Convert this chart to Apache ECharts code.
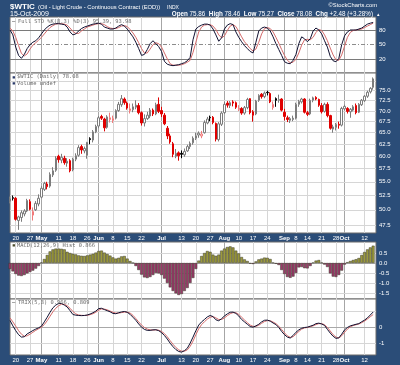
<!DOCTYPE html>
<html><head><meta charset="utf-8">
<script src="https://cdn.jsdelivr.net/npm/echarts@6/dist/echarts.min.js"></script>
<style>html,body{margin:0;padding:0;background:#2b4d78;}#c{width:400px;height:365px;}</style>
</head><body><div id="c"></div>
<script>
// ---------- DATA ----------
const holidays = ['2009-05-25','2009-07-03','2009-09-07'];
const firstDay = '2009-04-16';
const dayCount = 129; // through 2009-10-16 (empty slot at right edge)

const opens = [51.5,52.1,52.0,48.2,48.7,49.3,49.8,51.4,49.1,50.0,
51.0,52.2,53.6,54.6,54.2,56.3,57.2,60.0,59.2,59.6,
58.6,59.1,57.3,59.4,60.2,62.0,61.1,60.2,63.7,63.4,
65.2,66.5,68.7,68.1,66.2,68.0,67.8,68.3,70.1,71.5,
72.9,71.9,70.1,70.3,70.9,71.3,69.6,67.2,68.2,68.8,
70.2,69.3,71.6,70.1,69.0,66.0,64.3,62.6,60.0,60.7,
60.6,60.3,61.1,62.0,62.8,63.8,64.5,64.3,65.0,67.2,
68.5,68.5,67.1,63.5,66.9,69.6,71.9,71.3,72.2,72.0,
70.4,70.6,69.5,70.8,73.0,69.8,69.3,72.6,74.1,73.5,
74.6,74.3,70.8,73.0,72.6,72.9,69.7,68.4,67.8,68.0,
68.3,71.6,72.2,72.9,69.6,69.3,72.6,73.3,72.8,71.3,
69.9,71.6,68.9,65.8,66.2,66.9,66.7,70.5,70.6,69.8,
70.2,71.3,69.7,71.5,72.5,73.6,74.7,75.86];
const highs = [52.3,52.5,52.2,49.0,49.9,50.1,51.9,51.8,50.4,51.5,
52.7,54.2,55.0,55.0,56.8,57.8,60.0,60.3,60.5,60.1,
59.6,59.4,59.7,60.6,62.3,62.4,62.0,63.0,64.0,65.6,
66.8,68.8,69.1,68.4,69.0,69.6,68.9,70.4,72.2,73.9,
73.3,72.3,71.8,71.8,72.6,71.9,69.9,69.2,69.8,70.7,
70.6,72.0,73.3,71.0,69.5,66.5,64.8,63.0,61.5,61.0,
61.2,61.6,62.4,63.1,64.2,65.0,65.3,65.4,67.8,68.6,
68.9,68.8,67.3,67.4,69.9,72.2,72.4,72.4,72.6,72.3,
71.4,70.9,71.2,73.2,73.1,70.2,72.7,74.1,74.4,74.8,
75.0,74.6,72.3,73.3,74.0,73.1,70.5,68.9,68.6,68.9,
72.0,72.7,73.2,73.1,70.0,73.0,73.5,73.6,73.0,71.9,
72.0,72.1,69.1,66.8,67.2,67.5,71.0,71.5,70.9,70.7,
71.4,71.8,71.9,72.9,73.9,75.0,75.9,78.46];
const lows = [51.1,51.6,48.2,46.7,48.0,48.9,49.6,49.9,48.2,49.8,
50.6,52.0,53.3,53.6,53.9,55.9,56.9,58.7,58.6,58.3,
57.9,56.8,57.0,59.0,59.9,60.5,60.6,59.5,62.5,62.9,
64.9,66.0,67.9,65.3,65.9,67.3,67.2,68.0,69.8,71.0,
71.5,70.3,69.4,69.7,70.4,69.2,66.6,66.4,67.9,68.3,
68.8,69.0,69.5,68.6,66.7,63.6,62.6,59.8,59.6,59.1,
59.6,59.9,60.9,61.5,62.4,63.4,63.9,63.8,64.8,66.9,
67.6,66.9,63.1,63.1,66.5,69.3,70.8,70.7,71.1,70.5,
70.0,69.1,69.1,70.4,69.2,67.5,69.0,72.2,73.0,73.1,
73.8,71.9,70.3,71.0,72.0,69.9,67.8,67.4,67.2,67.6,
68.0,71.0,71.8,69.4,68.8,69.0,72.1,72.6,71.0,69.4,
69.6,68.5,65.7,65.0,65.5,65.9,66.4,70.2,69.4,68.4,
69.9,69.2,69.5,71.2,72.2,73.2,74.3,75.27];
const closes = [51.9,52.0,48.4,48.8,49.5,49.8,51.6,50.1,49.7,51.1,
52.0,53.8,54.7,54.1,56.4,57.1,59.6,59.3,59.8,58.7,
59.0,57.1,59.4,60.1,61.8,61.3,61.6,62.9,63.5,65.2,
66.4,68.4,68.3,66.1,68.6,68.4,68.2,70.1,71.6,73.0,
72.0,70.7,70.5,71.0,71.4,69.6,67.2,68.2,69.0,70.2,
69.3,71.5,69.9,69.3,67.0,64.3,63.0,60.4,60.6,60.1,
60.4,61.0,62.0,62.7,63.8,64.3,64.9,64.7,67.3,68.1,
68.4,67.3,63.6,67.0,69.5,71.6,71.4,72.0,71.9,70.9,
70.6,69.5,70.8,72.8,69.6,69.0,72.4,73.8,73.5,74.4,
74.5,72.2,71.6,72.6,72.8,70.2,68.7,68.0,68.2,68.3,
71.6,72.3,72.9,69.7,69.2,72.6,73.2,72.9,71.4,69.8,
71.6,68.9,66.0,66.3,66.9,66.7,70.6,71.1,69.9,70.4,
71.0,69.6,71.6,72.6,73.6,74.6,75.6,78.08];

const stoK = [80,70,45,28,22,30,42,50,55,58,
64,72,80,86,90,92,93,93,92,91,
86,76,70,72,78,83,86,88,90,92,
93,94,92,86,84,82,82,84,88,91,
88,82,74,66,55,42,28,30,40,52,
58,52,46,36,16,10,8,7,8,9,
11,13,17,24,60,82,87,90,92,92,
90,82,70,57,64,82,90,93,91,76,
65,56,48,42,36,33,55,78,84,86,
84,78,66,52,40,28,15,12,11,18,
30,52,66,62,56,62,78,84,80,72,
58,45,26,17,15,22,50,68,76,80,
80,80,82,84,88,92,94,95.39];
const stoD = [84,78,65,48,32,27,31,41,49,54,
59,65,72,79,85,89,92,93,93,92,
90,84,77,73,73,78,82,86,88,90,
92,93,93,91,87,84,83,83,85,88,
89,87,81,74,65,54,42,33,33,41,
50,54,52,45,33,21,11,8,8,8,
9,11,14,18,34,55,76,86,90,91,
91,88,81,70,64,68,79,88,91,87,
77,66,56,49,42,37,41,55,72,83,
85,83,76,65,53,40,28,18,13,14,
20,33,49,60,61,60,65,75,81,79,
70,58,43,29,19,18,29,47,65,75,
79,80,81,82,85,88,91,93.98];
const macdHist = [-0.30,-0.42,-0.55,-0.63,-0.65,-0.60,-0.52,-0.45,-0.38,-0.28,
-0.15,0.02,0.20,0.40,0.58,0.68,0.72,0.72,0.71,0.68,
0.56,0.50,0.46,0.43,0.38,0.36,0.35,0.38,0.42,0.46,
0.52,0.60,0.62,0.52,0.45,0.37,0.28,0.22,0.26,0.33,
0.35,0.22,0.10,0.01,-0.15,-0.35,-0.58,-0.72,-0.75,-0.70,
-0.60,-0.50,-0.52,-0.60,-0.78,-1.00,-1.22,-1.40,-1.52,-1.60,
-1.55,-1.40,-1.25,-1.00,-0.75,-0.30,0.12,0.35,0.50,0.60,
0.56,0.42,0.36,0.42,0.62,0.72,0.80,0.83,0.78,0.62,
0.48,0.30,0.18,0.10,-0.03,-0.05,0.08,0.18,0.22,0.27,
0.26,0.20,0.02,-0.04,-0.10,-0.35,-0.55,-0.70,-0.74,-0.68,
-0.50,-0.22,-0.20,-0.26,-0.27,-0.15,0.02,0.12,0.15,0.02,
-0.08,-0.20,-0.52,-0.68,-0.70,-0.60,-0.38,-0.08,0.04,0.10,
0.15,0.19,0.25,0.40,0.55,0.68,0.78,0.866];
const trix = [0.44,0.10,-0.20,-0.45,-0.60,-0.58,-0.40,-0.30,-0.19,-0.10,
-0.02,0.08,0.35,0.64,0.95,1.23,1.40,1.50,1.50,1.40,
1.28,1.05,0.81,0.77,0.75,0.74,0.75,0.78,0.84,0.92,
1.02,1.18,1.20,1.12,1.05,0.98,0.88,0.86,0.92,0.97,
1.00,0.95,0.82,0.64,0.45,0.22,0.02,-0.12,-0.18,-0.18,
-0.15,-0.14,-0.20,-0.32,-0.50,-0.72,-0.98,-1.20,-1.38,-1.50,
-1.54,-1.45,-1.30,-0.98,-0.60,-0.20,0.15,0.35,0.50,0.66,
0.75,0.68,0.48,0.42,0.55,0.72,0.85,0.95,0.96,0.88,
0.72,0.50,0.35,0.20,0.06,0.02,0.10,0.20,0.35,0.45,
0.46,0.40,0.28,0.18,0.00,-0.25,-0.45,-0.60,-0.66,-0.50,
-0.30,-0.15,-0.05,0.00,0.02,0.08,0.14,0.24,0.27,0.22,
0.13,-0.12,-0.35,-0.55,-0.68,-0.65,-0.42,-0.15,0.00,0.10,
0.15,0.20,0.24,0.36,0.46,0.60,0.78,0.966];
const trixSignal = [0.60,0.35,0.08,-0.20,-0.42,-0.55,-0.52,-0.42,-0.30,-0.18,
-0.08,0.02,0.18,0.42,0.70,0.98,1.20,1.36,1.45,1.45,
1.36,1.20,1.00,0.85,0.78,0.76,0.75,0.76,0.80,0.86,
0.95,1.08,1.16,1.15,1.10,1.03,0.95,0.90,0.90,0.93,
0.96,0.96,0.90,0.76,0.56,0.35,0.15,0.00,-0.10,-0.15,
-0.16,-0.15,-0.17,-0.25,-0.38,-0.58,-0.82,-1.05,-1.25,-1.40,
-1.48,-1.48,-1.40,-1.18,-0.85,-0.45,-0.08,0.18,0.36,0.52,
0.64,0.68,0.60,0.50,0.50,0.60,0.74,0.86,0.93,0.92,
0.82,0.64,0.47,0.30,0.15,0.07,0.07,0.14,0.26,0.37,
0.43,0.42,0.34,0.24,0.08,-0.13,-0.34,-0.52,-0.62,-0.58,
-0.42,-0.25,-0.10,-0.03,0.00,0.05,0.10,0.18,0.24,0.24,
0.17,0.00,-0.22,-0.45,-0.60,-0.66,-0.52,-0.30,-0.10,0.04,
0.12,0.17,0.22,0.30,0.40,0.53,0.67,0.809];

const xTickDates = ['2009-04-20','2009-04-27','2009-05-01','2009-05-11','2009-05-18','2009-05-26','2009-06-01','2009-06-08','2009-06-15','2009-06-22','2009-07-01','2009-07-13','2009-07-20','2009-07-27','2009-08-03','2009-08-10','2009-08-17','2009-08-24','2009-09-01','2009-09-08','2009-09-14','2009-09-21','2009-09-28','2009-10-01','2009-10-12'];
const xTickText = ['20','27','May','11','18','26','Jun','8','15','22','Jul','13','20','27','Aug','10','17','24','Sep','8','14','21','28','Oct','12'];
const monthStarts = ['2009-05-01','2009-06-01','2009-07-01','2009-08-03','2009-09-01','2009-10-01'];
const priceTicks = [47.5,50,52.5,55,57.5,60,62.5,65,67.5,70,72.5,75,77.5];
const stoTicks = [20,50,80];
const macdTicks = [0.5,0,-0.5,-1.0,-1.5];
const trixTicks = [1,0,-1];

// ---------- BUILD ----------
const dates = [];
{ let d = new Date(Date.UTC(2009,3,16));
  while (dates.length < dayCount) {
    const wd = d.getUTCDay(), s = d.toISOString().slice(0,10);
    if (wd !== 0 && wd !== 6 && holidays.indexOf(s) < 0) dates.push(s);
    d.setUTCDate(d.getUTCDate()+1);
  } }
const tickMap = {};
xTickDates.forEach((dt,k)=>{ tickMap[dates.indexOf(dt)] = xTickText[k]; });

const FONT = '"Liberation Sans", Arial, sans-serif';
const MONO = '"DejaVu Sans Mono", monospace';
const WHITE = '#ffffff';

const candleData = closes.map((c,i)=>{
  const o = opens[i], prev = i>0 ? closes[i-1] : o;
  const upDay = c >= prev;
  let fill, border;
  if (c >= o) { fill = '#ffffff'; border = upDay ? '#7c7c7c' : '#f07a7a'; }
  else { fill = upDay ? '#000000' : '#e00000'; border = fill; }
  return {value:[o,c,lows[i],highs[i]], itemStyle:{color:fill,color0:fill,borderColor:border,borderColor0:border}};
});
const macdData = macdHist.map(v=>({value:v, itemStyle:{color: v>=0 ? '#9c9a3c' : '#9a3a6a'}}));

const grids = [
  {left:10, right:24, top:17, height:56},
  {left:10, right:24, top:73, height:160},
  {left:10, right:24, top:242, height:57},
  {left:10, right:24, top:299, height:56}
].map(g=>Object.assign(g,{show:true, backgroundColor:'#ffffff', borderColor:'#6a6a6a', borderWidth:1}));

const xAxes = [0,1,2,3].map(k=>({
  type:'category', gridIndex:k, data:dates, boundaryGap:false,
  axisLine:{show:false}, axisTick:{show:false},
  axisLabel:{show:(k===1||k===3), interval:(i)=>tickMap[i]!==undefined, margin:2,
    color:WHITE, fontSize:6, fontFamily:FONT,
    formatter:(v,i)=>{ const t = tickMap[dates.indexOf(v)]; if(t===undefined) return ''; return /[A-Za-z]/.test(t) ? '{m|'+t+'}' : t; },
    rich:{m:{fontWeight:'bold', color:WHITE, fontSize:6, fontFamily:FONT}}},
  splitLine:{show:true, interval:(i)=>tickMap[i]!==undefined, lineStyle:{color:'#d6d6d6', width:1}}
}));
const yAxes = [
  {type:'value', gridIndex:0, min:-8, max:106.6, show:false},
  {type:'log', gridIndex:1, min:46.2, max:79.66, show:false},
  {type:'value', gridIndex:2, min:-1.8, max:1.05, show:false},
  {type:'value', gridIndex:3, min:-1.72, max:1.78, show:false}
];

function hLine(v, color, type, text){
  return {yAxis:v, lineStyle:{color:color, width:1, type:type||'solid'},
    label: text!=null ? {show:true, position:'end', distance:3, formatter:text, color:WHITE, fontSize:6, fontFamily:FONT} : {show:false}};
}
function monthLines(){ return monthStarts.map(dt=>({xAxis:dt, lineStyle:{color:'#a6a6a6', width:1, type:'solid'}, label:{show:false}})); }
function gridSeries(k, lines){
  return {type:'line', xAxisIndex:k, yAxisIndex:k, data:[], silent:true, z:1,
    markLine:{silent:true, symbol:['none','none'], animation:false, z:1, data: monthLines().concat(lines)}};
}
function tagSeries(k, v, text){
  return {type:'line', xAxisIndex:k, yAxisIndex:k, data:[], silent:true, z:20,
    markLine:{silent:true, symbol:['none','none'], animation:false, z:20,
      data:[{yAxis:v, lineStyle:{width:0, opacity:0},
        label:{show:true, position:'end', distance:1, formatter:text, color:'#000', fontSize:5.5, fontFamily:FONT,
          backgroundColor:'#ffffff', borderColor:'#444', borderWidth:1, padding:[1,1,0,1]}}]}};
}

const series = [
  gridSeries(0, stoTicks.map(v=> v===50 ? hLine(v,'#8c8c8c',[4,2,1,2],String(v)) : hLine(v,'#7a7a7a','solid',String(v)))),
  {type:'line', xAxisIndex:0, yAxisIndex:0, data:stoD, symbol:'none', z:3, lineStyle:{color:'#d46a6a', width:1}, animation:false},
  {type:'line', xAxisIndex:0, yAxisIndex:0, data:stoK, symbol:'none', z:4, lineStyle:{color:'#101030', width:1}, animation:false},
  tagSeries(0, stoK[stoK.length-1], '95.39'),

  gridSeries(1, priceTicks.map(v=>hLine(v,'#d6d6d6','solid', v===77.5 ? null : v.toFixed(1)))),
  {type:'candlestick', xAxisIndex:1, yAxisIndex:1, data:candleData, barWidth:2, z:3, animation:false,
    itemStyle:{borderWidth:1}},
  tagSeries(1, closes[closes.length-1], '78.08'),

  gridSeries(2, macdTicks.map(v=>hLine(v, v===0 ? '#a8a8a8' : '#d6d6d6','solid', v.toFixed(1)))),
  {type:'bar', xAxisIndex:2, yAxisIndex:2, data:macdData, barCategoryGap:'0%', z:3, animation:false,
    itemStyle:{borderColor:'#3a3a2a', borderWidth:0.5}},
  tagSeries(2, macdHist[macdHist.length-1], '0.866'),

  gridSeries(3, trixTicks.map(v=>hLine(v, v===0 ? '#a8a8a8' : '#d6d6d6','solid', v===1 ? null : String(v)))),
  {type:'line', xAxisIndex:3, yAxisIndex:3, data:trixSignal, symbol:'none', z:3, lineStyle:{color:'#d46a6a', width:1}, animation:false},
  {type:'line', xAxisIndex:3, yAxisIndex:3, data:trix, symbol:'none', z:4, lineStyle:{color:'#101030', width:1}, animation:false},
  tagSeries(3, trix[trix.length-1], '0.966')
];

function txt(x,y,text,font,fill,align,extra){
  return Object.assign({type:'text', x:x, y:y, z:50, silent:true,
    style:{text:text, font:font, fill:fill||WHITE, align:align||'left', verticalAlign:'middle'}}, extra||{});
}
const graphics = [
  txt(10,7,'$WTIC','bold 8px '+FONT),
  txt(38,7.5,'(Oil - Light Crude - Continuous Contract (EOD))','5.8px '+FONT),
  txt(167,7.5,'INDX','5px '+FONT),
  txt(10,14,'15-Oct-2009','7px '+FONT),
  txt(377,5,'\u00A9StockCharts.com','5.8px '+FONT,WHITE,'right'),
  {type:'text', x:373, y:14, z:50, silent:true, style:{
    text:'{b|Open} 75.86  {b|High} 78.46  {b|Low} 75.27  {b|Close} 78.08  {b|Chg} +2.48 (+3.28%)',
    font:'6.3px '+FONT, fill:WHITE, align:'right', verticalAlign:'middle',
    rich:{b:{fontWeight:'bold', fontSize:6.3, fontFamily:FONT, fill:WHITE}}}},
  txt(377,14.5,'\u25B4','5px '+FONT),
  // panel legends
  txt(12,21.5,'\u2014','5.4px '+MONO,'#111'),
  txt(18,21.5,'Full STO %K(8,3) %D(3) 95.39, 93.98','5.4px '+MONO,'#6a6a6a'),
  txt(12,77,'\u25AA','6px '+MONO,'#2a3a6a'),
  txt(17,77,'$WTIC (Daily) 78.08','5.4px '+MONO,'#6a6a6a'),
  txt(12,83.5,'\u25AA','6px '+MONO,'#2a3a6a'),
  txt(17,83.5,'Volume undef','5.4px '+MONO,'#6a6a6a'),
  txt(12,245.5,'\u25AA','6px '+MONO,'#4a4a2a'),
  txt(17,245.5,'MACD(12,26,9) Hist 0.866','5.4px '+MONO,'#6a6a6a'),
  txt(12,303,'\u2014','5.4px '+MONO,'#111'),
  txt(18,303,'TRIX(5,3) 0.966, 0.809','5.4px '+MONO,'#6a6a6a')
];

const chart = echarts.init(document.getElementById('c'), null, {renderer:'canvas', width:400, height:365});
chart.setOption({
  animation:false,
  backgroundColor:'#2b4d78',
  grid:grids, xAxis:xAxes, yAxis:yAxes, series:series, graphic:graphics
});
</script></body></html>
